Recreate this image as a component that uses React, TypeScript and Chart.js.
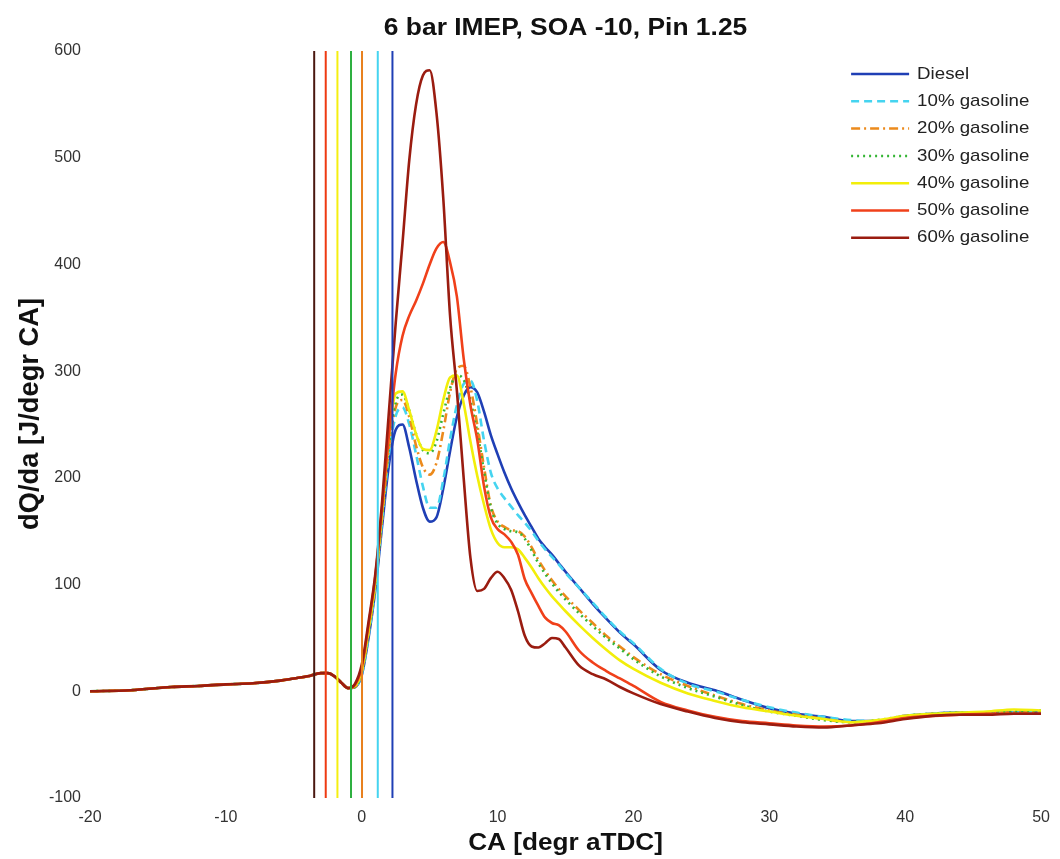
import React, { useEffect, useRef } from "react";
import { Chart, registerables } from "chart.js";

Chart.register(...registerables);

// Crank angle grid [degr aTDC]
const CA = [
  -20, -17, -14, -12, -10, -8, -6, -5, -4, -3, -2.5, -2, -1.5, -1, -0.5,
  0, 0.5, 1, 1.5, 2, 2.5, 3, 3.5, 4, 4.5, 5, 5.5, 6, 6.5, 7, 7.5, 8, 8.5, 9, 9.5,
  10, 10.5, 11, 11.5, 12, 12.5, 13, 13.5, 14, 14.5, 15,
  16, 17, 18, 19, 20,
  22, 24, 26, 28, 30, 32, 34, 36, 38, 40, 42, 44, 46, 48, 50,
];

const DIESEL = [
  0, 1, 4, 5, 6.5, 7.5, 10, 12, 14, 17, 17, 14, 8, 3, 4,
  15, 50, 95, 155, 212, 245, 250, 228, 198, 172, 159, 163, 190, 225, 257, 277, 285, 280, 262, 240,
  222, 205, 190, 177, 165, 154, 143, 135, 128, 120, 112,
  97, 82, 68, 55, 44,
  20, 8, 1, -8, -16, -21, -24, -28, -28, -23, -21, -20, -20, -20, -19,
];
const GAS10 = [
  0, 1, 4, 5, 6.5, 7.5, 10, 12, 14, 17, 17, 14, 8, 3, 4,
  16, 52, 98, 160, 222, 258, 266, 250, 222, 192, 172, 172, 198, 236, 268, 288, 291, 272, 235, 205,
  190, 181, 173, 165, 158, 150, 141, 133, 126, 119, 111,
  97, 83, 69, 56, 45,
  21, 7, 0, -8, -15, -20, -24, -27, -28, -23, -21, -20, -20, -20, -19,
];
const GAS20 = [
  0, 1, 4, 5, 6.5, 7.5, 10, 12, 14, 17, 17, 14, 8, 3, 4,
  18, 55, 100, 163, 228, 266, 273, 257, 230, 210, 203, 214, 244, 280, 302, 305, 285, 250, 210, 174,
  159, 154, 151, 150, 145, 135, 123, 113, 104, 96, 89,
  76, 64, 52, 42, 32,
  16, 5, -4, -12, -18, -22, -26, -29, -28, -24, -22, -21, -20, -20, -19,
];
const GAS30 = [
  0, 1, 4, 5, 6.5, 7.5, 10, 12, 14, 17, 17, 14, 8, 3, 4,
  18, 55, 100, 165, 230, 271, 278, 263, 241, 226, 223, 234, 260, 284, 296, 292, 272, 243, 206, 172,
  157, 152, 150, 149, 143, 132, 120, 110, 101, 93, 86,
  73, 61, 50, 40, 30,
  14, 3, -5, -13, -19, -23, -27, -29, -27, -23, -21, -20, -20, -19, -18,
];
const GAS40 = [
  0, 1, 4, 5, 6.5, 7.5, 10, 12, 14, 17, 17, 14, 8, 3, 5,
  19, 57, 103, 168, 238, 279, 281, 263, 241, 227, 226, 244, 273, 294, 296, 270, 234, 202, 175, 152,
  139, 135, 135, 133, 125, 116, 106, 97, 89, 82, 75,
  62, 50, 39, 29, 21,
  8, -2, -9, -15, -19, -23, -26, -29, -27, -23, -21, -20, -19, -17, -18,
];
const GAS50 = [
  0, 1, 4, 5, 6.5, 7.5, 10, 12, 14, 17, 17, 14, 8, 3, 6,
  22, 62, 108, 172, 240, 298, 333, 352, 366, 382, 400, 415, 421, 402, 370, 312, 268, 236, 192, 163,
  152, 147, 140, 128, 105, 92, 80, 69, 64, 62, 56,
  38, 27, 19, 12, 5,
  -10, -18, -24, -28, -30, -32, -33, -32, -29, -25, -23, -22, -21, -21, -21,
];
const GAS60 = [
  0, 1, 4, 5, 6.5, 7.5, 10, 12, 14, 17, 17, 14, 8, 3, 7,
  25, 65, 110, 178, 262, 345, 420, 498, 550, 577, 582, 542, 462, 352, 282, 200, 125, 94, 96, 106,
  112, 106, 95, 75, 52, 42, 41, 45, 50, 49, 41,
  24, 16, 11, 4, -2,
  -12, -19, -25, -29, -31, -33, -34, -32, -30, -26, -23, -22, -22, -21, -21,
];

const SERIES_LABELS = [
  "Diesel",
  "10% gasoline",
  "20% gasoline",
  "30% gasoline",
  "40% gasoline",
  "50% gasoline",
  "60% gasoline",
];
const SERIES_VALUES = [DIESEL, GAS10, GAS20, GAS30, GAS40, GAS50, GAS60];
const SERIES_COLORS = ["#1f3fb5", "#45d4f0", "#ec8a1c", "#35b535", "#f2ee0a", "#f0401a", "#9a1c10"];
const SERIES_DASH = [[], [8, 5], [9, 4, 2, 4], [2, 4], [], [], []];
const LINE_COLORS = ["#1f3fb5", "#45d4f0", "#e8801e", "#2eb040", "#f5ef10", "#ee3a12", "#4a1810"];
// start of combustion markers [degr aTDC]
const INJECTION_CA = [2.26, 1.18, 0.02, -0.79, -1.79, -2.65, -3.5];

const X_MIN = -20;
const X_MAX = 50;
const Y_MIN = -100;
const Y_MAX = 600;

const TITLE = "6 bar IMEP, SOA -10, Pin 1.25";
const X_TITLE = "CA [degr aTDC]";
const Y_TITLE = "dQ/da [J/degr CA]";

const FONT = '"Liberation Sans", Arial, Helvetica, sans-serif';

const textPlugin = {
  id: "customText",
  afterDraw(chart: any) {
    const { ctx, chartArea } = chart;
    const draw = (
      text: string, x: number, y: number, font: string, sx: number,
      align: CanvasTextAlign, color: string, rot = 0, sy = 1
    ) => {
      ctx.save();
      ctx.translate(x, y);
      if (rot) ctx.rotate(rot);
      ctx.scale(sx, sy);
      ctx.font = font;
      ctx.fillStyle = color;
      ctx.textAlign = align;
      ctx.textBaseline = "middle";
      ctx.fillText(text, 0, 0);
      ctx.restore();
    };
    const cx = (chartArea.left + chartArea.right) / 2;
    draw(TITLE, cx, 28, `bold 24px ${FONT}`, 1.1, "center", "#111");
    draw(X_TITLE, cx, 843, `bold 24px ${FONT}`, 1.09, "center", "#111");
    draw(Y_TITLE, 30, 414, `bold 26px ${FONT}`, 1.05, "center", "#111", -Math.PI / 2, 1.05);

    // legend
    const lx0 = chartArea.right - 190;
    const lx1 = chartArea.right - 132;
    const tx = chartArea.right - 124;
    const y0 = chartArea.top + 23;
    SERIES_LABELS.forEach((label, i) => {
      const y = y0 + i * 27.3;
      ctx.save();
      ctx.strokeStyle = SERIES_COLORS[i];
      ctx.lineWidth = 2.5;
      ctx.setLineDash(SERIES_DASH[i]);
      ctx.beginPath();
      ctx.moveTo(lx0, y);
      ctx.lineTo(lx1, y);
      ctx.stroke();
      ctx.restore();
      draw(label, tx, y, `17px ${FONT}`, 1.1, "left", "#222");
    });
  },
};

export default function App() {
  const ref = useRef<HTMLCanvasElement | null>(null);
  useEffect(() => {
    if (!ref.current) return;
    const curveSets = SERIES_LABELS.map((label, i) => ({
      label,
      data: CA.map((x, k) => ({ x, y: SERIES_VALUES[i][k] })),
      borderColor: SERIES_COLORS[i],
      backgroundColor: SERIES_COLORS[i],
      borderWidth: 2.6,
      borderDash: SERIES_DASH[i],
      pointRadius: 0,
      cubicInterpolationMode: "monotone" as const,
      fill: false,
      order: 10 - i,
    }));
    const markerSets = INJECTION_CA.map((ca, i) => ({
      label: "",
      data: [{ x: ca, y: Y_MIN }, { x: ca, y: Y_MAX }],
      borderColor: LINE_COLORS[i],
      backgroundColor: LINE_COLORS[i],
      borderWidth: 2,
      pointRadius: 0,
      fill: false,
      order: 0,
    }));
    const chart = new Chart(ref.current, {
      type: "line",
      data: { datasets: [...curveSets, ...markerSets] as any },
      options: {
        animation: false,
        responsive: false,
        devicePixelRatio: 1,
        layout: { padding: { top: 51, right: 18, left: 0, bottom: 0 } },
        plugins: {
          legend: { display: false },
          title: { display: false },
          tooltip: { enabled: false },
        },
        scales: {
          x: {
            type: "linear",
            min: X_MIN,
            max: X_MAX,
            grid: { display: false, drawTicks: false },
            border: { display: false },
            ticks: {
              stepSize: 10,
              padding: 10,
              color: "#333",
              font: { family: FONT, size: 16 },
            },
            afterFit: (s: any) => { s.height = 61; },
          },
          y: {
            type: "linear",
            min: Y_MIN,
            max: Y_MAX,
            grid: { display: false, drawTicks: false },
            border: { display: false },
            ticks: {
              stepSize: 100,
              padding: 9,
              color: "#333",
              font: { family: FONT, size: 16 },
            },
            afterFit: (s: any) => { s.width = 90; },
          },
        },
      },
      plugins: [textPlugin],
    });
    return () => chart.destroy();
  }, []);
  return (
    <div style={{ position: "absolute", left: 0, top: 0, width: 1060, height: 859, background: "#fff" }}>
      <canvas ref={ref} width={1060} height={859} style={{ display: "block" }} />
    </div>
  );
}
